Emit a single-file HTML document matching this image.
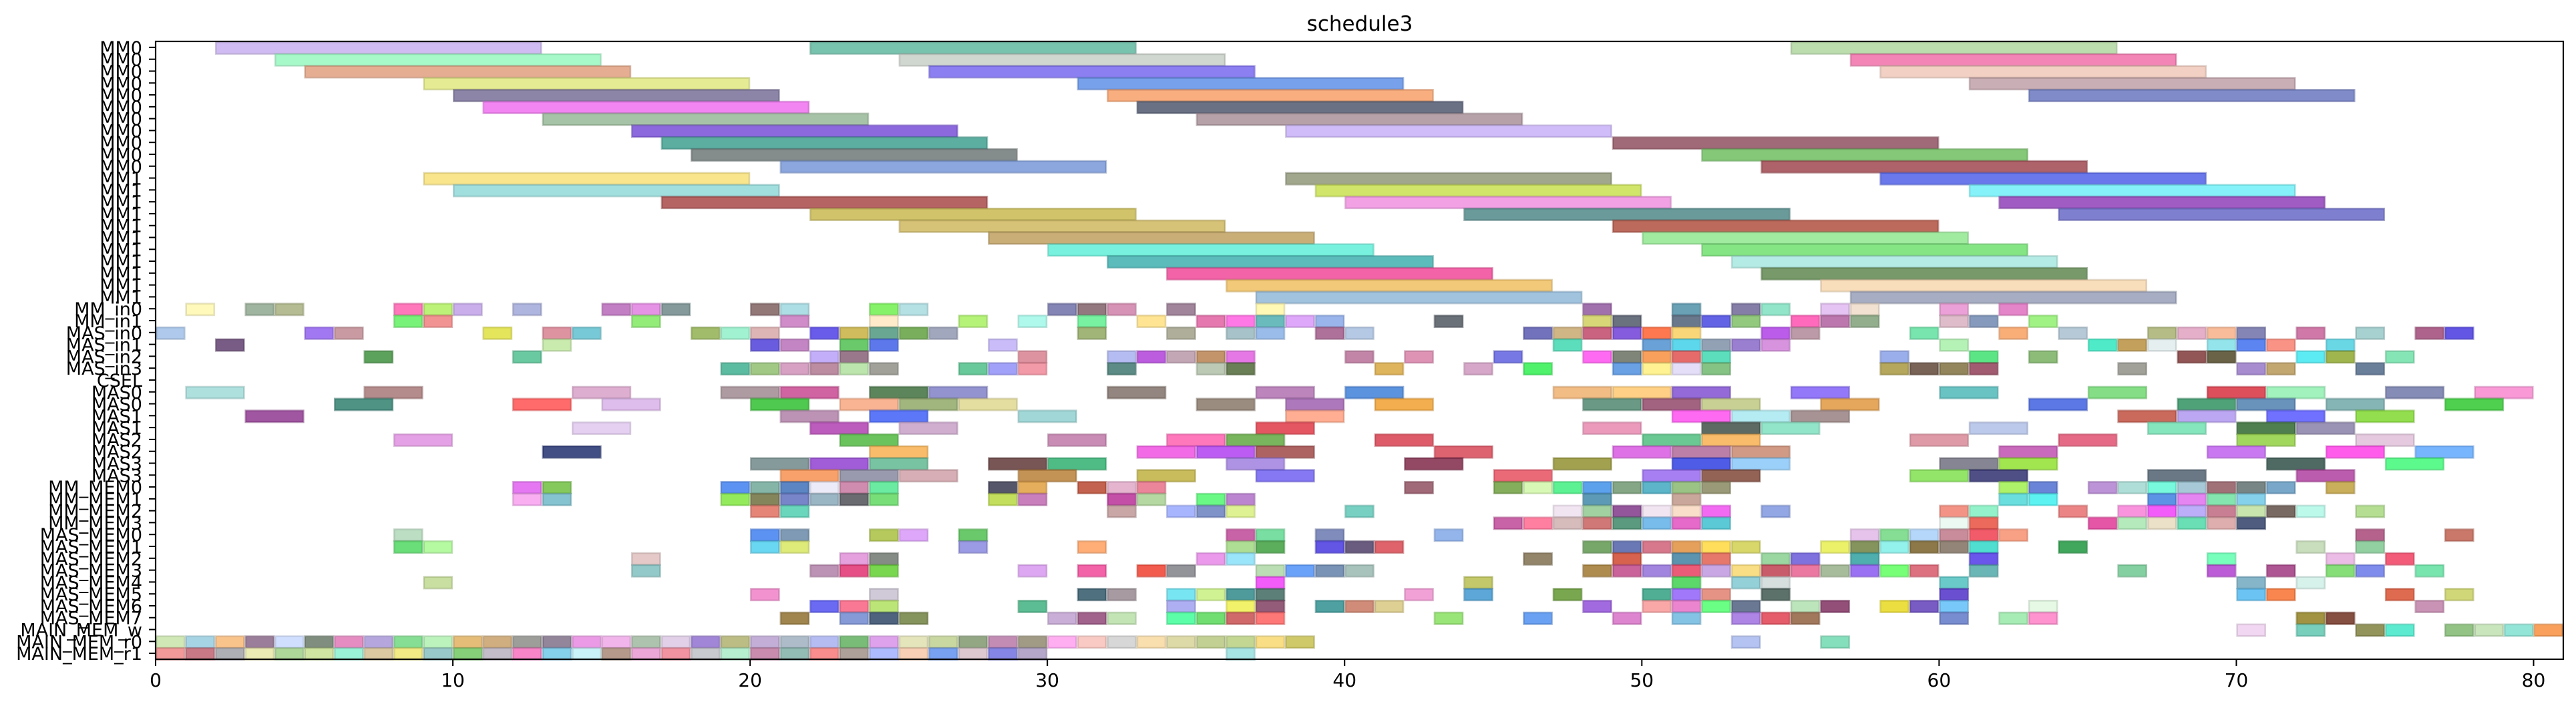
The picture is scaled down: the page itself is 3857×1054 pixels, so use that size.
<!DOCTYPE html>
<html><head><meta charset="utf-8"><title>schedule3</title>
<style>html,body{margin:0;padding:0;background:#fff}svg{display:block}text{font-family:"DejaVu Sans","Liberation Sans",sans-serif}</style>
</head><body>
<svg id="chart" width="3857" height="1054" viewBox="0 0 3857 1054" xmlns="http://www.w3.org/2000/svg">
<rect width="3857" height="1054" fill="#fff"/>
<text x="2036" y="46" font-size="31" text-anchor="middle">schedule3</text>
<g id="bars"></g>
<g id="axes"></g>
</svg>
<script>
const rowLabels = ['MM0','MM0','MM0','MM0','MM0','MM0','MM0','MM0','MM0','MM0','MM0','MM1','MM1','MM1','MM1','MM1','MM1','MM1','MM1','MM1','MM1','MM1','MM_in0','MM_in1','MAS_in0','MAS_in1','MAS_in2','MAS_in3','CSEL','MAS0','MAS0','MAS1','MAS1','MAS2','MAS2','MAS3','MAS3','MM_MEM0','MM_MEM1','MM_MEM2','MM_MEM3','MAS_MEM0','MAS_MEM1','MAS_MEM2','MAS_MEM3','MAS_MEM4','MAS_MEM5','MAS_MEM6','MAS_MEM7','MAIN_MEM_w','MAIN_MEM_r0','MAIN_MEM_r1'];
const xTicks = [0,10,20,30,40,50,60,70,80];
const xMin = 0, xMax = 81;
// long tasks: [row, start, end, color]
const longTasks = [
[0,2,13,'c8b0f0'],[0,22,33,'60b8a0'],[0,55,66,'b0d8a0'],
[1,4,15,'98f8c0'],[1,25,36,'c8d0c8'],[1,57,68,'f070a8'],
[2,5,16,'e0a080'],[2,26,37,'7868f0'],[2,58,69,'f0c8b8'],
[3,9,20,'e0e880'],[3,31,42,'6090e8'],[3,61,72,'c0a0a8'],
[4,10,21,'787098'],[4,32,43,'f8a068'],[4,63,74,'6878c0'],
[5,11,22,'f070f0'],[5,33,44,'505870'],
[6,13,24,'98b898'],[6,35,46,'a89098'],
[7,16,27,'7850d8'],[7,38,49,'c8b0f8'],
[8,17,28,'40a090'],[8,49,60,'905060'],
[9,18,29,'707878'],[9,52,63,'70c060'],
[10,21,32,'7898d8'],[10,54,65,'a04850'],
[11,9,20,'f8e078'],[11,38,49,'909878'],[11,58,69,'5060e8'],
[12,10,21,'90d8d8'],[12,39,50,'c8e050'],[12,61,72,'70f0f8'],
[13,17,28,'a84848'],[13,40,51,'f090e0'],[13,62,73,'9040b8'],
[14,22,33,'c8b850'],[14,44,55,'508888'],[14,64,75,'6868c8'],
[15,25,36,'d0b860'],[15,49,60,'b05040'],
[16,28,39,'c0a060'],[16,50,61,'90e890'],
[17,30,41,'60f0d8'],[17,52,63,'70e070'],
[18,32,43,'40b0b0'],[18,53,64,'a8e8e0'],
[19,34,45,'f04898'],[19,54,65,'608850'],
[20,36,47,'f0c060'],[20,56,67,'f8d8b0'],
[21,37,48,'90b8d8'],[21,57,68,'98a0b8']
];
// two-unit tasks: [row, start, color]
const twoUnitTasks = [
[29,1,'a0dcd8'],[29,7,'a87878'],[29,14,'d8a0c8'],[29,19,'a08890'],[29,21,'c84890'],[29,24,'407040'],[29,26,'8080c8'],[29,32,'807068'],[29,37,'b070b0'],[29,40,'4080d8'],[29,47,'f0b070'],[29,49,'ffc870'],[29,51,'8050d0'],[29,55,'8060f8'],[29,60,'50b8b8'],[29,65,'70d870'],[29,69,'d83040'],[29,71,'90f0b0'],[29,75,'7078a8'],[29,78,'f888d0'],
[30,6,'308070'],[30,12,'ff5050'],[30,15,'d8b0e8'],[30,20,'30c030'],[30,23,'f8a880'],[30,25,'90a868'],[30,27,'e0d890'],[30,35,'887868'],[30,38,'a060b0'],[30,41,'f0a030'],[30,48,'508870'],[30,50,'904868'],[30,52,'c0c880'],[30,56,'e09840'],[30,63,'4060e0'],[30,68,'309060'],[30,70,'5080b0'],[30,73,'70a8a8'],[30,77,'30c830'],
[31,3,'903890'],[31,21,'b080a8'],[31,24,'4060f8'],[31,29,'90d0d0'],[31,38,'ffa080'],[31,51,'ff50f0'],[31,53,'a8e8f0'],[31,55,'988080'],[31,66,'c05040'],[31,68,'b098f0'],[31,71,'5858ff'],[31,74,'80d830'],
[32,14,'e0c8f0'],[32,22,'b040b0'],[32,25,'c8a0c8'],[32,37,'e03848'],[32,48,'e888b0'],[32,52,'405048'],[32,54,'80e0c0'],[32,61,'b0c0e8'],[32,67,'70e0b0'],[32,70,'306830'],[32,72,'8880a8'],
[33,8,'e090e0'],[33,23,'50b840'],[33,30,'c078a8'],[33,34,'ff60b0'],[33,36,'60a840'],[33,41,'d84050'],[33,50,'50c080'],[33,52,'f8b050'],[33,59,'d88898'],[33,64,'e05070'],[33,70,'90d040'],[33,74,'e0c0d8'],
[34,13,'203070'],[34,24,'f8b050'],[34,33,'f050e0'],[34,35,'b040f0'],[34,37,'a04848'],[34,43,'d84858'],[34,49,'d858e0'],[34,51,'b06898'],[34,53,'c88870'],[34,62,'c050b0'],[34,69,'c060f0'],[34,73,'ff40e8'],[34,76,'60a8ff'],
[35,20,'708888'],[35,22,'9040d0'],[35,24,'60b890'],[35,28,'603838'],[35,30,'30b070'],[35,36,'a080e0'],[35,42,'802848'],[35,47,'909030'],[35,51,'3040e0'],[35,53,'88c8f8'],[35,60,'707080'],[35,62,'90e030'],[35,71,'305048'],[35,75,'40f878'],
[36,21,'f89050'],[36,23,'8888a0'],[36,25,'d0a0a8'],[36,29,'b88038'],[36,33,'c0b040'],[36,37,'7060f0'],[36,45,'e85060'],[36,50,'9868f0'],[36,52,'804838'],[36,59,'80e050'],[36,61,'303070'],[36,67,'506070'],[36,72,'b040a0']
];
// one-unit tasks per row: [[start, color], ...]
const unitRow22 = [[1,'fff8b0'],[3,'8fa88f'],[4,'a8b080'],[8,'ff60b0'],[9,'b0f060'],[10,'c0a0e8'],[12,'a0a8d8'],[15,'b868b8'],[16,'e080e0'],[17,'708888'],[20,'806060'],[21,'a0d8e0'],[24,'70f050'],[25,'a8dce0'],[30,'7070a8'],[31,'806068'],[32,'d080a8'],[34,'907088'],[37,'fff8a8'],[48,'9058a0'],[51,'5090a8'],[53,'706898'],[54,'80e0c0'],[56,'e0b8f0'],[57,'f0dcc8'],[60,'e890d0'],[62,'e070c0']];
const unitRow23 = [[8,'60f060'],[9,'f08080'],[16,'80e860'],[21,'c878c0'],[24,'ffe8c0'],[27,'a8f060'],[29,'a0f8e8'],[31,'60f090'],[33,'ffe080'],[35,'e060a0'],[36,'ff60e0'],[37,'50b0b0'],[38,'d898f8'],[39,'88a8e8'],[43,'505860'],[48,'d0d060'],[49,'505868'],[51,'506078'],[52,'4848e0'],[53,'80c068'],[55,'ff50b0'],[56,'b060a0'],[57,'80a078'],[60,'d8b0c0'],[61,'7088b0'],[63,'90f070']];
const unitRow24 = [[0,'a0c0e8'],[5,'9060f0'],[6,'c08890'],[11,'e0e040'],[13,'d88090'],[14,'60c0d0'],[18,'90b050'],[19,'90f0c8'],[20,'d8a8a8'],[22,'5040e8'],[23,'c8b040'],[24,'509880'],[25,'60a040'],[26,'9098b0'],[31,'90a860'],[34,'a0a088'],[36,'98b8c0'],[37,'88b0e8'],[39,'a05888'],[40,'a8c0e0'],[46,'5858b0'],[47,'c8a870'],[48,'c04868'],[49,'7040d8'],[50,'ff6030'],[51,'f8d060'],[54,'b040e8'],[55,'b08898'],[59,'60e0a0'],[62,'f8a060'],[64,'a8c0d0'],[67,'a8b070'],[68,'e0a0c0'],[69,'f8b088'],[70,'7070a8'],[72,'c86098'],[74,'98c8c8'],[76,'a04878'],[77,'4838e0']];
const unitRow25 = [[2,'604070'],[13,'c0e8a0'],[20,'5040d8'],[21,'b870b8'],[23,'50c050'],[24,'4060e8'],[28,'c0b0f8'],[47,'40d8b0'],[50,'5090d0'],[51,'40d0e8'],[52,'8090a8'],[53,'8868c8'],[54,'d080d8'],[60,'a8f0a8'],[65,'30e8c0'],[66,'b89040'],[67,'e0ecec'],[69,'80e0e8'],[70,'4070f0'],[71,'f88070'],[73,'50d0e0']];
const unitRow26 = [[7,'409040'],[12,'50c090'],[22,'b8a0f8'],[23,'886078'],[29,'d88090'],[32,'a8b0f0'],[33,'b040d8'],[34,'b898a8'],[35,'b88050'],[36,'e060e0'],[40,'b87098'],[42,'d880a8'],[45,'6060e0'],[48,'ff50f0'],[49,'687060'],[50,'f89040'],[51,'e05050'],[52,'40d8b0'],[58,'88a0e8'],[61,'40e070'],[63,'78b060'],[68,'803838'],[69,'504828'],[72,'40e8f0'],[73,'90a830'],[75,'70e0a8']];
const unitRow27 = [[19,'40b090'],[20,'90c070'],[21,'d090b8'],[22,'b07890'],[23,'b0e0a0'],[24,'909088'],[27,'50c088'],[28,'9090f8'],[29,'f08898'],[32,'407870'],[35,'b0c0a8'],[36,'506838'],[41,'d8a840'],[44,'d098c0'],[46,'30f050'],[49,'5090e0'],[50,'fff080'],[51,'e0d8f8'],[52,'70b870'],[58,'a89840'],[59,'604838'],[60,'807040'],[61,'904058'],[66,'909088'],[70,'9878c8'],[71,'b89858'],[74,'506888']];
const unitRow37 = [[12,'e060f0'],[13,'70c040'],[19,'4080f0'],[20,'70a898'],[21,'4070b8'],[22,'e8e8f8'],[23,'c878a0'],[24,'50e890'],[28,'383850'],[29,'e0a040'],[31,'b84830'],[32,'e0a8c8'],[33,'e87088'],[42,'905060'],[45,'70a040'],[46,'d0f8a8'],[47,'40f080'],[48,'4090e8'],[49,'709870'],[50,'40a8c0'],[51,'88b870'],[52,'888860'],[62,'a0f050'],[63,'5070d0'],[65,'b080d0'],[66,'a0d8d0'],[67,'60f8d8'],[68,'98c0d0'],[69,'905860'],[70,'607070'],[71,'6098c0'],[73,'c0a040']];
const unitRow38 = [[12,'f8a0f0'],[13,'70b8c8'],[19,'80e840'],[20,'707040'],[21,'6070c0'],[22,'88a8b8'],[23,'505058'],[24,'60d860'],[28,'b8d840'],[29,'c068b0'],[32,'b83098'],[33,'a8d090'],[35,'50f870'],[36,'b070c8'],[48,'4088a8'],[51,'c09888'],[62,'50d8d8'],[63,'40f0f0'],[67,'4080e0'],[68,'e070f0'],[69,'70e0a0'],[70,'70c8e8']];
const unitRow39 = [[20,'e07060'],[21,'50d0b0'],[32,'c09898'],[34,'98a8ff'],[35,'6880c0'],[36,'d8f080'],[40,'60c8b8'],[47,'f0e0f0'],[48,'90c890'],[49,'803888'],[50,'f0e0f0'],[51,'f8d8c0'],[52,'f050f0'],[54,'8098e0'],[60,'f08070'],[61,'80f0c0'],[64,'e87070'],[66,'f880d8'],[67,'f040f8'],[68,'b0a0f8'],[69,'c06880'],[70,'c0e0a0'],[71,'605048'],[72,'b0f8e8'],[74,'a8d880']];
const unitRow40 = [[45,'c04898'],[46,'ff6890'],[47,'d0b0b0'],[48,'c86060'],[49,'408868'],[50,'60b0e8'],[51,'e050c0'],[52,'40c0d0'],[60,'e8f8f0'],[61,'e85040'],[65,'e03898'],[66,'a8e8b0'],[67,'e8dcc0'],[68,'50d8a8'],[69,'d8a0a0'],[70,'304068']];
const unitRow41 = [[8,'b0d8b8'],[20,'4080f0'],[21,'6888a8'],[24,'a8c040'],[25,'d898f8'],[27,'50c050'],[36,'c04898'],[37,'60d890'],[39,'6878b0'],[43,'80a8e8'],[57,'e0b8e8'],[58,'70d880'],[59,'a8d0f8'],[60,'c07888'],[61,'f04050'],[62,'f89070'],[74,'a84878'],[77,'c06050']];
const unitRow42 = [[8,'50d860'],[9,'a8f890'],[20,'50d0f0'],[21,'d8e860'],[27,'8888e0'],[31,'ffa060'],[36,'a0d880'],[37,'40a040'],[39,'4838e0'],[40,'504068'],[41,'d84850'],[48,'609850'],[49,'5060a8'],[50,'d06078'],[51,'e09040'],[52,'ffd840'],[53,'d0d050'],[56,'e8f050'],[57,'708040'],[58,'80f0e8'],[59,'786028'],[60,'807060'],[61,'30d8c8'],[64,'209840'],[72,'c0d8b0'],[74,'80c890']];
const unitRow43 = [[16,'e0c0c0'],[23,'e090d8'],[24,'707870'],[35,'e888e8'],[36,'88e0f8'],[46,'807050'],[49,'d04830'],[51,'4080a0'],[52,'e06050'],[54,'88d090'],[55,'6858d8'],[57,'30a0a0'],[61,'5038e8'],[69,'60ffb0'],[73,'e8b0e0'],[75,'f04060']];
const unitRow44 = [[16,'80c0c0'],[22,'b080a8'],[23,'e03070'],[24,'60d030'],[29,'d898f0'],[31,'f04898'],[33,'f04030'],[34,'808088'],[37,'b0d8a8'],[38,'5090f8'],[39,'6080a8'],[40,'98b8b0'],[48,'a07830'],[49,'c04888'],[50,'9070d8'],[51,'e84060'],[52,'c098e0'],[53,'f8d870'],[54,'c04050'],[55,'e86090'],[56,'98b088'],[57,'8858f0'],[58,'60ff60'],[59,'d85868'],[61,'50a8a8'],[66,'70c890'],[69,'b040d0'],[71,'a03880'],[73,'70d860'],[74,'6878e8'],[76,'60e0a0']];
const unitRow45 = [[9,'c0d890'],[37,'f040f8'],[44,'b8c050'],[51,'40d050'],[53,'80c8d0'],[54,'d0d8d8'],[60,'50c0c0'],[70,'70a8c0'],[72,'d0f0e8']];
const unitRow46 = [[20,'f080c8'],[24,'c8c0d0'],[31,'305868'],[32,'988890'],[34,'60e0f0'],[35,'c8f080'],[36,'308888'],[37,'406860'],[42,'f090d0'],[44,'4098d0'],[47,'609830'],[50,'30a080'],[51,'9060f8'],[52,'e08070'],[54,'405850'],[60,'5030c8'],[70,'50b8f0'],[71,'f87030'],[75,'d85030'],[77,'c8d060']];
const unitRow47 = [[22,'5050f0'],[23,'f86080'],[24,'b0e060'],[29,'40b080'],[34,'a0a0f0'],[36,'f0f050'],[37,'804060'],[39,'309090'],[40,'c87860'],[41,'d8c880'],[48,'9050d8'],[50,'f89898'],[51,'e870c8'],[52,'50ff70'],[53,'506080'],[55,'b0e0b0'],[56,'803060'],[58,'e8d820'],[59,'6040b8'],[60,'60c0f8'],[63,'e0f8e0'],[76,'c080a8']];
const unitRow48 = [[21,'907030'],[23,'7088d0'],[24,'304868'],[25,'708040'],[30,'c0a0d0'],[31,'904878'],[32,'b8e0a8'],[34,'40ff98'],[35,'58d858'],[36,'c85050'],[37,'ff6060'],[43,'88e060'],[46,'5090f0'],[49,'d870c8'],[51,'70b8e0'],[53,'a070e0'],[54,'e04050'],[55,'906040'],[60,'6078c8'],[62,'98e8a8'],[63,'ff80c8'],[72,'908020'],[73,'703020']];
const unitRow49 = [[70,'f0d0f0'],[72,'60c8b0'],[74,'808040'],[75,'40e8c8'],[77,'80b870'],[78,'c0e0b0'],[79,'80e0d0'],[80,'f89040']];
const unitRow50 = [[0,'c8e4a8'],[1,'98cce0'],[2,'f8b878'],[3,'8a6888'],[4,'c8d8ff'],[5,'6a7a6a'],[6,'e078b8'],[7,'a898d8'],[8,'70d880'],[9,'b0f0b0'],[10,'e0b060'],[11,'c8a068'],[12,'8c8c88'],[13,'807088'],[14,'e888e0'],[15,'f0a8e8'],[16,'a0b8a0'],[17,'dcc8e4'],[18,'9070d0'],[19,'b0b070'],[20,'b8a0d0'],[21,'a0b0c0'],[22,'a8b0f0'],[23,'60b060'],[24,'d890e8'],[25,'e0e0b0'],[26,'c0d090'],[27,'809870'],[28,'b878a8'],[29,'908870'],[30,'ffa0f0'],[31,'f8c0b8'],[32,'d0d0d0'],[33,'f8d8a0'],[34,'d8d498'],[35,'b8c880'],[36,'b8d080'],[37,'f8d870'],[38,'c8c050'],[53,'a8b8f0'],[56,'70d8b0']];
const unitRow51 = [[0,'f08888'],[1,'c06070'],[2,'a0a0a8'],[3,'e8e8a8'],[4,'a0d088'],[5,'c8e090'],[6,'88f0d0'],[7,'d4c090'],[8,'f0e870'],[9,'88c0c0'],[10,'70c860'],[11,'b8b0c0'],[12,'f870c0'],[13,'70c8e8'],[14,'c0f0f8'],[15,'a88878'],[16,'e898d0'],[17,'f08090'],[18,'c0c0c8'],[19,'a8ecc8'],[20,'c078a0'],[21,'80b0a8'],[22,'f87878'],[23,'a09088'],[24,'a0b0ff'],[25,'f8c8a8'],[26,'6090f0'],[27,'d8c0c8'],[28,'7070e0'],[29,'a898c0'],[36,'98e0e0']];
const unitRows = {22:unitRow22,23:unitRow23,24:unitRow24,25:unitRow25,26:unitRow26,27:unitRow27,37:unitRow37,38:unitRow38,39:unitRow39,40:unitRow40,41:unitRow41,42:unitRow42,43:unitRow43,44:unitRow44,45:unitRow45,46:unitRow46,47:unitRow47,48:unitRow48,49:unitRow49,50:unitRow50,51:unitRow51};

const NS = 'http://www.w3.org/2000/svg';
const plotL = 233, plotR = 3838, plotT = 62, plotB = 987;
const xScale = v => plotL + (v - xMin) / (xMax - xMin) * (plotR - plotL);
const rowH = (plotB - plotT) / rowLabels.length;
const yCenter = i => plotT + rowH * (i + 0.5);
function darker(hex){
  const n = parseInt(hex,16);
  const r = Math.round(((n>>16)&255)*0.8), g = Math.round(((n>>8)&255)*0.8), b = Math.round((n&255)*0.8);
  return 'rgb('+r+','+g+','+b+')';
}
const barsG = document.getElementById('bars');
function addBar(row, s, e, col){
  const r = document.createElementNS(NS,'rect');
  
  
  const x0 = xScale(s), x1 = xScale(e);
  r.setAttribute('x', x0 + 1.2);
  r.setAttribute('y', yCenter(row) - rowH/2 + 1.2);
  r.setAttribute('width', Math.max(0, x1 - x0 - 2.4));
  r.setAttribute('height', rowH - 2.4 + 2);
  r.setAttribute('fill', '#' + col);
  r.setAttribute('fill-opacity', '0.85');
  r.setAttribute('stroke', darker(col));
  r.setAttribute('stroke-opacity', '0.5');
  r.setAttribute('stroke-width', '2.6');
  barsG.appendChild(r);
}
longTasks.forEach(t => addBar(t[0], t[1], t[2], t[3]));
twoUnitTasks.forEach(t => addBar(t[0], t[1], t[1] + 2, t[2]));
Object.keys(unitRows).forEach(k => unitRows[k].forEach(t => addBar(+k, t[0], t[0] + 1, t[1])));

const axesG = document.getElementById('axes');
const frame = document.createElementNS(NS,'rect');


frame.setAttribute('x', plotL); frame.setAttribute('y', plotT);
frame.setAttribute('width', plotR - plotL); frame.setAttribute('height', plotB - plotT);
frame.setAttribute('fill', 'none'); frame.setAttribute('stroke', '#000'); frame.setAttribute('stroke-width', '2.2');
axesG.appendChild(frame);
xTicks.forEach(v => {
  const x = xScale(v);
  const l = document.createElementNS(NS,'line');
  
  
  l.setAttribute('x1', x); l.setAttribute('x2', x); l.setAttribute('y1', plotB); l.setAttribute('y2', plotB + 10);
  l.setAttribute('stroke', '#000'); l.setAttribute('stroke-width', '2');
  axesG.appendChild(l);
  const t = document.createElementNS(NS,'text');
  
  
  t.setAttribute('x', x); t.setAttribute('y', 1028);
  t.setAttribute('font-size', '28'); t.setAttribute('text-anchor', 'middle');
  t.textContent = v;
  axesG.appendChild(t);
});
rowLabels.forEach((lab, i) => {
  const y = yCenter(i);
  const l = document.createElementNS(NS,'line');
  
  
  l.setAttribute('x1', plotL - 10); l.setAttribute('x2', plotL); l.setAttribute('y1', y); l.setAttribute('y2', y);
  l.setAttribute('stroke', '#000'); l.setAttribute('stroke-width', '2');
  axesG.appendChild(l);
  const t = document.createElementNS(NS,'text');
  
  
  t.setAttribute('x', plotL - 20); t.setAttribute('y', y + 10);
  t.setAttribute('font-size', '27'); t.setAttribute('text-anchor', 'end');
  t.textContent = lab;
  axesG.appendChild(t);
});
</script>
</body></html>
